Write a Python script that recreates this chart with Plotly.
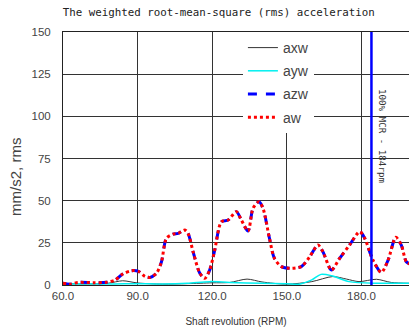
import plotly.graph_objects as go

# RPM samples and series values (mm/s2, rms)
rpm_aw = [60, 63, 66, 72, 77.5, 81, 84, 87.6, 90.3, 93, 95, 97.6, 99.6, 101.6, 104.3, 106.3,
          109, 110.3, 112.3, 115, 117, 119, 121, 123.7, 126.4, 129.7, 131.7, 134.4, 136.4,
          138.8, 140.4, 143, 145, 147.8, 151.2, 155.8, 159.2, 162.5, 164.5, 167.9, 171.2,
          175.2, 179.3, 181.3, 184.6, 188, 190.7, 193.8, 196, 198, 199.5]
aw = [1, 0.5, 1.5, 1.4, 1.6, 3, 6.5, 8.5, 8.1, 5, 4.5, 7, 13.8, 27.7, 30.2, 30.6,
      32.6, 30.6, 19.7, 7, 4, 9, 20.7, 37.5, 38.5, 43.5, 38.5, 32, 45.5,
      49.4, 45.5, 27.7, 15.8, 10.9, 9.9, 10.9, 16.8, 23.7, 19.7, 8.9, 15.8,
      23.7, 31.6, 27.7, 14.8, 7.5, 14.8, 28.3, 23.7, 13.8, 12.5]
azw = aw

rpm_axw = [60, 70, 78, 84, 90, 100, 110, 120, 127, 134, 140, 150, 160, 168.4, 174, 179, 186, 192, 199.5]
axw = [0.8, 0.6, 1.0, 2.5, 1.2, 0.5, 0.8, 1.3, 1.5, 3.5, 1.8, 0.5, 2.0, 5.0, 3.5, 2.0, 3.4, 1.5, 1.0]

rpm_ayw = [60, 70, 80, 90, 100, 110, 119, 127, 140, 150, 155, 160, 163.7, 168, 175, 186, 192, 199.5]
ayw = [0.5, 0.7, 0.6, 0.8, 0.6, 1.0, 2.0, 1.5, 1.0, 0.7, 0.5, 3.0, 6.3, 5.5, 2.0, 1.0, 1.0, 1.0]

x_ticks = [60, 90, 120, 150, 180]
x_tick_labels = ["60.0", "90.0", "120.0", "150.0", "180.0"]
y_ticks = [0, 25, 50, 75, 100, 125, 150]
mcr_rpm = 184

fig = go.Figure()
fig.add_trace(go.Scatter(x=rpm_axw, y=axw, name="axw", mode="lines", legendgroup="a",
                         line=dict(color="#333333", width=1, shape="spline", smoothing=0.8)))
fig.add_trace(go.Scatter(x=rpm_ayw, y=ayw, name="ayw", mode="lines", legendgroup="b",
                         line=dict(color="#00F0F0", width=1.5, shape="spline", smoothing=0.8)))
fig.add_trace(go.Scatter(x=rpm_aw, y=azw, name="azw", mode="lines", legendgroup="c",
                         line=dict(color="#0000FF", width=3, dash="dash", shape="spline", smoothing=0.8)))
fig.add_trace(go.Scatter(x=rpm_aw, y=aw, name="aw", mode="lines", legendgroup="d",
                         line=dict(color="#FF0000", width=3, dash="dot", shape="spline", smoothing=0.8)))

fig.add_shape(type="line", x0=mcr_rpm, x1=mcr_rpm, y0=0, y1=150, xref="x", yref="y",
              line=dict(color="#0000FF", width=2.5))
fig.add_annotation(x=188.5, y=88, xref="x", yref="y", text="100% MCR - 184rpm",
                   textangle=90, showarrow=False,
                   font=dict(family="DejaVu Sans Mono", size=9.2, color="#333333"))
# y-axis title (placed below the axis centre as in the reference)
fig.add_annotation(x=-0.136, y=0.427, xref="paper", yref="paper", text="mm/s2, rms",
                   textangle=-90, showarrow=False, xanchor="center", yanchor="middle",
                   font=dict(family="Liberation Sans", size=15, color="#444444"))

fig.update_layout(
    width=409, height=329,
    margin=dict(l=63, r=0, t=32, b=44),
    paper_bgcolor="white", plot_bgcolor="white",
    title=dict(text="The weighted root-mean-square (rms) acceleration",
               x=0.535, xanchor="center", y=0.964, yanchor="middle",
               font=dict(family="DejaVu Sans Mono", size=10.8, color="#222222")),
    legend=dict(x=0.52, y=1.0, xanchor="left", yanchor="top", bgcolor="white",
                borderwidth=0, tracegroupgap=2,
                font=dict(family="Liberation Sans", size=14, color="#444444")),
    font=dict(family="Liberation Sans", color="#444444"),
)
fig.update_xaxes(range=[60, 199.1], tickvals=x_ticks, ticktext=x_tick_labels,
                 showgrid=True, gridcolor="#333333", gridwidth=1,
                 showline=True, linecolor="#222222", linewidth=1, mirror=True,
                 ticks="", zeroline=False, tickfont=dict(size=11.5, color="#444444"),
                 title=dict(text="Shaft revolution (RPM)", standoff=17,
                            font=dict(size=10, color="#333333")))
fig.update_yaxes(range=[0, 150], tickvals=y_ticks,
                 showgrid=True, gridcolor="#333333", gridwidth=1,
                 showline=True, linecolor="#222222", linewidth=1,
                 ticks="", zeroline=False, tickfont=dict(size=11.5, color="#444444"),
                 ticklabelstandoff=9)

# remove the browser's default 8px body margin so the figure fills the window
fig.write_html("out.html", config={"displayModeBar": False},
               post_script="document.body.style.margin='0px';")
